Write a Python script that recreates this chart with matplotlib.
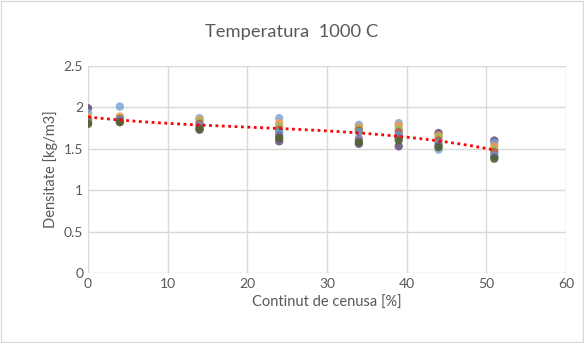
import numpy as np
import matplotlib.pyplot as plt
from matplotlib.patches import Rectangle

plt.rcParams['font.family'] = ['Lato', 'DejaVu Sans']

# continut de cenusa [%]
x = [0, 4, 14, 24, 34, 39, 44, 51]

# densitate per proba
s1 = [1.99, 1.83, 1.73, 1.59, 1.56, 1.53, 1.69, 1.60]
s2 = [1.93, 2.01, 1.87, 1.87, 1.79, 1.81, 1.49, 1.57]
s3 = [1.88, 1.89, 1.85, 1.81, 1.76, 1.78, 1.66, 1.53]
s4 = [1.86, 1.87, 1.83, 1.77, 1.74, 1.74, 1.64, 1.49]
s5 = [1.84, 1.86, 1.80, 1.73, 1.72, 1.70, 1.60, 1.46]
s6 = [1.82, 1.85, 1.78, 1.70, 1.70, 1.66, 1.57, 1.42]
s7 = [1.81, 1.84, 1.76, 1.66, 1.62, 1.63, 1.54, 1.40]
s8 = [1.80, 1.82, 1.74, 1.63, 1.58, 1.60, 1.52, 1.38]
series = [s1, s2, s3, s4, s5, s6, s7, s8]
colors = ["#604A7B", "#7BA7D6", "#F79646", "#9BBB59", "#C0504D",
          "#4BACC6", "#8064A2", "#4F6228"]

fig = plt.figure(figsize=(5.84, 3.43), dpi=100)
ax = fig.add_axes([0.1507, 0.2041, 0.8185, 0.6035])
fig.patches.append(Rectangle((0.002, 0.003), 0.996, 0.994, transform=fig.transFigure,
                             fill=False, edgecolor="#D9D9D9", linewidth=1))

for s, c in zip(series, colors):
    ax.scatter(x, s, s=36, color=c, alpha=0.85, edgecolors="none", zorder=3)

# polynomial trendline
allx = np.repeat([x], len(series), axis=0).ravel()
ally = np.array(series).ravel()
coef = np.polyfit(allx, ally, 3)
xt = np.linspace(0, 51, 200)
ax.plot(xt, np.polyval(coef, xt), color="#FF0000", linestyle=(0, (1, 1.3)),
        linewidth=2, zorder=4)

ax.set_xlim(0, 60)
ax.set_ylim(0, 2.5)
ax.set_xticks(range(0, 61, 10))
ax.set_yticks([0, 0.5, 1, 1.5, 2, 2.5])
ax.set_yticklabels(["0", "0.5", "1", "1.5", "2", "2.5"])
ax.grid(True, color="#D9D9D9", linewidth=1)
ax.set_axisbelow(True)
for sp in ax.spines.values():
    sp.set_visible(False)
ax.tick_params(length=0, colors="#595959", labelsize=10)
ax.set_xlabel("Continut de cenusa [%]", color="#595959", fontsize=10.5)
ax.set_ylabel("Densitate [kg/m3]", color="#595959", fontsize=10.5)
fig.text(0.5, 0.907, "Temperatura  1000 C", color="#595959", fontsize=13.2,
         ha="center", va="center")

fig.savefig("out.png", dpi=100)
